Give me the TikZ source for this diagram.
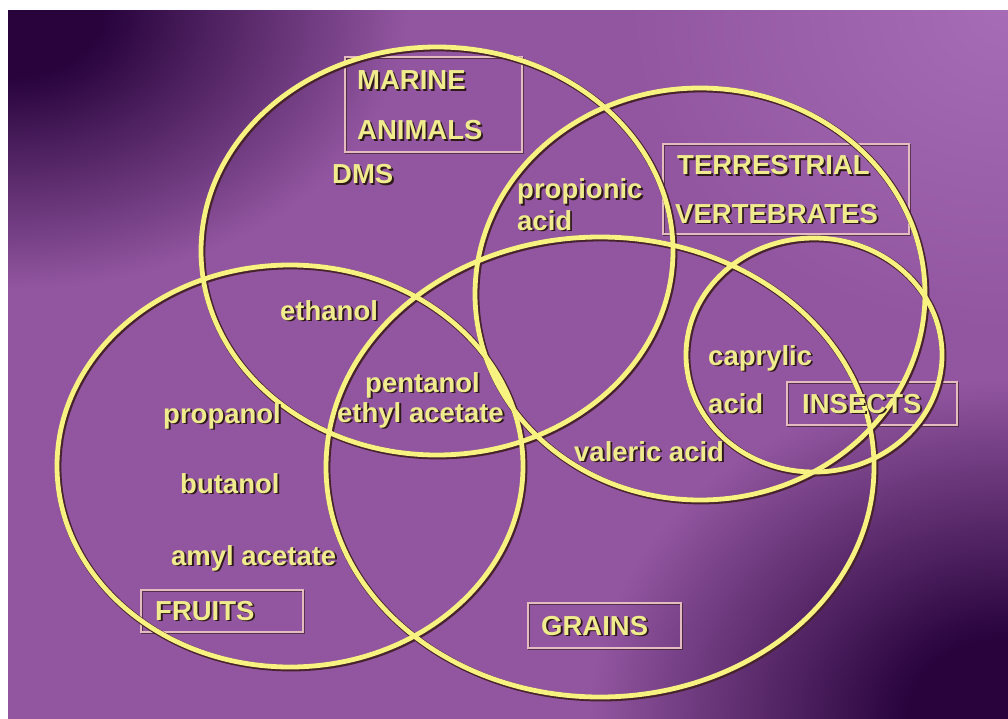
\documentclass[tikz,border=0pt]{standalone}
\usepackage{fontspec}
\setmainfont{Liberation Sans}
\definecolor{bgdark}{RGB}{40,3,60}
\definecolor{bglight}{RGB}{146,86,160}
\definecolor{bglighter}{RGB}{166,108,182}
\definecolor{ring}{RGB}{248,243,128}
\definecolor{ringsh}{RGB}{70,35,45}
\definecolor{txt}{RGB}{240,235,140}
\definecolor{txtsh}{RGB}{45,25,25}
\definecolor{boxc}{RGB}{228,188,192}
\pgfdeclareradialshading{cornerdark}{\pgfpoint{0bp}{0bp}}{color(0bp)=(bgdark); color(6bp)=(bgdark); color(25bp)=(bglight); color(50bp)=(bglight)}
\pgfdeclareradialshading{cornerlight}{\pgfpoint{0bp}{0bp}}{color(0bp)=(bglighter); color(25bp)=(bglight); color(50bp)=(bglight)}
\tikzset{
  ringsty/.style={draw=ring, line width=4.8pt},
  ringshadow/.style={draw=ringsh, line width=6.4pt, xshift=1.2pt, yshift=-1.2pt},
  lab/.style={anchor=base west, inner sep=0pt, font=\fontsize{27.5}{30}\selectfont\bfseries, text=txt},
  labsh/.style={lab, text=txtsh, xshift=1.8pt, yshift=-1.8pt},
  catbox/.style={draw=boxc, line width=1.3pt},
  catboxsh/.style={draw=txtsh, line width=1.2pt, xshift=1pt, yshift=-1pt, opacity=0.6},
}
\newcommand\lbl[3]{\node[labsh] at (#2) {#3}; \node[lab] (#1) at (#2) {#3};}
\begin{document}
\begin{tikzpicture}[x=1pt,y=-1pt]
\useasboundingbox (0,0) rectangle (1008,719);
% background
\begin{scope}
  \clip (8,10) rectangle (1030,740);
  \fill[bglight] (8,10) rectangle (1030,740);
  \shade[shading=cornerlight] (1008,10) ellipse [x radius=380, y radius=320];
  \shade[shading=cornerdark] (8,10) ellipse [x radius=400, y radius=280];
  \shade[shading=cornerdark] (1008,719) ellipse [x radius=420, y radius=340];
\end{scope}
\fill[white] (0,-10) rectangle (1030,10);
\fill[white] (-10,-10) rectangle (8,740);
% category boxes
\foreach \a/\b in {{345,57}/{522,152},{663,144}/{909,234},{787,382}/{957,425},{141,590}/{303,632},{528,603}/{681,648}}{
  \draw[catboxsh] (\a) rectangle (\b);
  \draw[catbox] (\a) rectangle (\b);
}
% ellipse shadows
\foreach \c/\rx/\ry in {{437,251}/236/204,{700,294}/225/206,{290,466}/233/201,{600,467}/274/230,{814,355}/128/117}{
  \draw[ringshadow] (\c) ellipse [x radius=\rx, y radius=\ry];
}
% ellipses
\draw[ringsty] (437,251) ellipse [x radius=236, y radius=204]; % marine animals
\draw[ringsty] (700,294) ellipse [x radius=225, y radius=206]; % terrestrial vertebrates
\draw[ringsty] (290,466) ellipse [x radius=233, y radius=201]; % fruits
\draw[ringsty] (600,467) ellipse [x radius=274, y radius=230]; % grains
\draw[ringsty] (814,355) ellipse [x radius=128, y radius=117]; % insects
% category labels
\lbl{marine}{357,90}{MARINE}
\lbl{animals}{357,140}{ANIMALS}
\lbl{terr}{677,175}{TERRESTRIAL}
\lbl{vert}{675,223}{VERTEBRATES}
\lbl{insects}{802,413}{INSECTS}
\lbl{fruits}{155,620}{FRUITS}
\lbl{grains}{541,635}{GRAINS}
% compounds
\lbl{dms}{332,184}{DMS}
\lbl{prop1}{517,199}{propionic}
\lbl{prop2}{517,230}{acid}
\lbl{ethanol}{280,320}{ethanol}
\lbl{pentanol}{365,392}{pentanol}
\lbl{ethylac}{337,422}{ethyl acetate}
\lbl{propanol}{163,423}{propanol}
\lbl{butanol}{180,493}{butanol}
\lbl{amyl}{171,565}{amyl acetate}
\lbl{valeric}{574,461}{valeric acid}
\lbl{capr1}{708,365}{caprylic}
\lbl{capr2}{708,413}{acid}
\end{tikzpicture}
\end{document}
